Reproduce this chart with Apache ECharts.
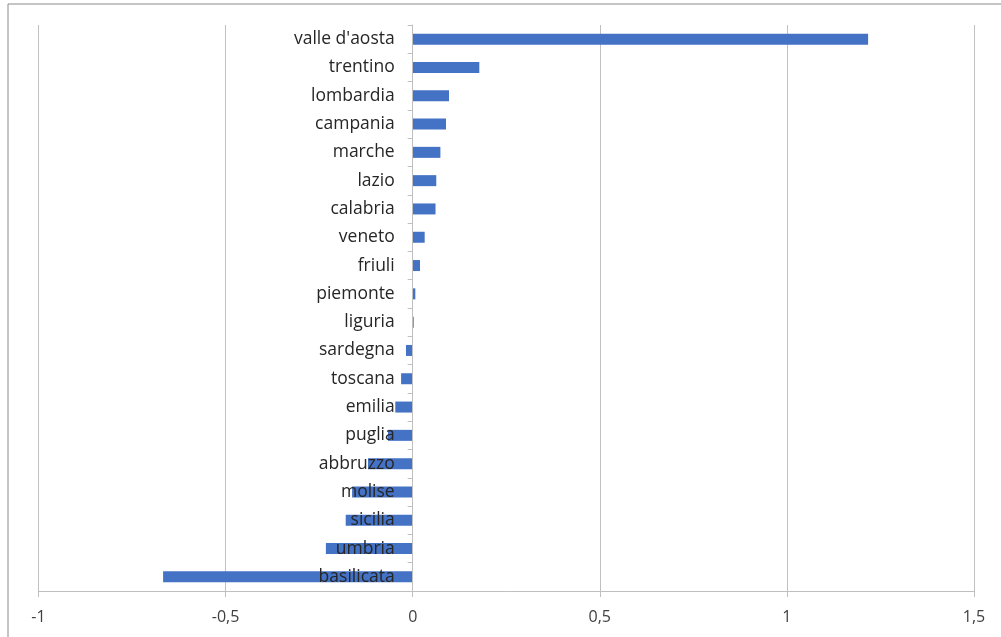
<!DOCTYPE html>
<html>
<head>
<meta charset="utf-8">
<script src="https://cdn.jsdelivr.net/npm/echarts@6/dist/echarts.min.js"></script>
<style>
html,body{margin:0;padding:0;background:#fff;}
#chart{width:1001px;height:637px;}
</style>
</head>
<body>
<div id="chart"></div>
<script>
const categories = ["valle d'aosta","trentino","lombardia","campania","marche","lazio","calabria","veneto","friuli","piemonte","liguria","sardegna","toscana","emilia","puglia","abbruzzo","molise","sicilia","umbria","basilicata"];
const values = [1.217,0.178,0.097,0.089,0.074,0.063,0.061,0.032,0.0195,0.007,0.0027,-0.018,-0.031,-0.0465,-0.066,-0.1195,-0.162,-0.179,-0.232,-0.667];
const xMin = -1, xMax = 1.5, xStep = 0.5;

const chart = echarts.init(document.getElementById('chart'));
chart.setOption({
  animation: false,
  backgroundColor: '#ffffff',
  graphic: [{
    type: 'rect',
    shape: {x: 8, y: 4, width: 1200, height: 800},
    style: {fill: 'none', stroke: '#8a8a8a', lineWidth: 1},
    silent: true
  }],
  grid: {left: 38.5, right: 27, top: 25, bottom: 46, containLabel: false, outerBoundsMode: 'none'},
  xAxis: {
    type: 'value', min: xMin, max: xMax, interval: xStep,
    axisLine: {show: true, lineStyle: {color: '#bfbfbf'}},
    axisTick: {show: true, length: 6, lineStyle: {color: '#bfbfbf'}},
    splitLine: {show: true, lineStyle: {color: '#c0c0c0'}},
    axisLabel: {
      margin: 18, color: '#404040', fontSize: 16, fontFamily: 'Open Sans',
      formatter: v => String(v).replace('.', ',')
    }
  },
  yAxis: {
    type: 'category', data: categories, inverse: true, z: 10,
    axisLine: {show: true, onZero: false, lineStyle: {color: '#bfbfbf'}},
    axisTick: {show: true, length: 5, lineStyle: {color: '#bfbfbf'}},
    splitLine: {show: false},
    axisLabel: {margin: 18, color: '#262626', fontSize: 17.5, fontFamily: 'Open Sans'}
  },
  series: [{
    type: 'bar', data: values, barWidth: 11,
    itemStyle: {color: '#4472c4'}
  }]
});
// move the category axis (line, ticks, labels) to the x = 0 position
const zeroPx = chart.convertToPixel({xAxisIndex: 0}, 0);
const minPx = chart.convertToPixel({xAxisIndex: 0}, xMin);
chart.setOption({yAxis: {offset: -(zeroPx - minPx)}});
</script>
</body>
</html>
